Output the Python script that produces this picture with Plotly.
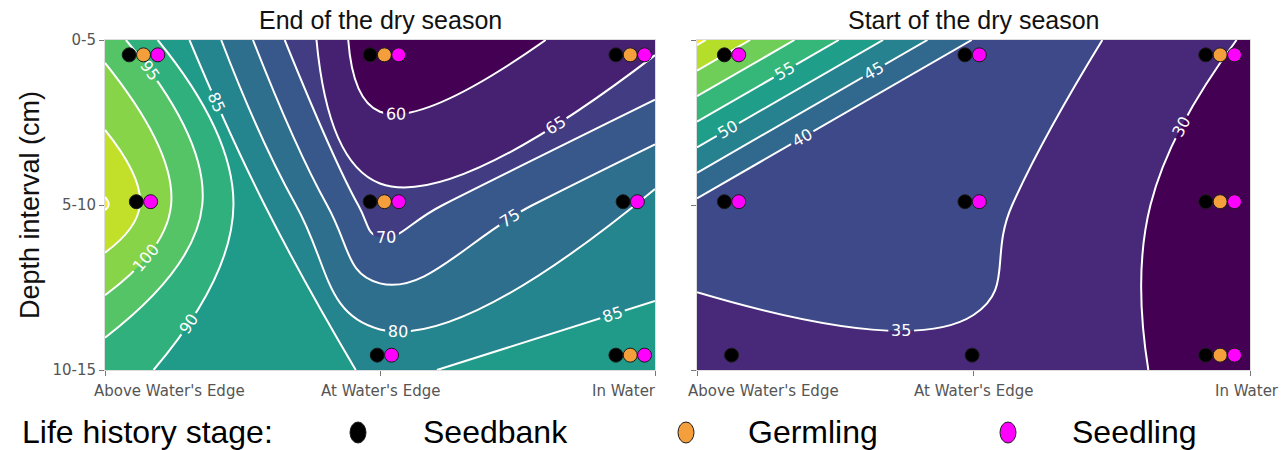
import plotly.graph_objects as go

# Sampling grid: locations along the shore (columns) and depth intervals (rows)
locations = ["Above Water's Edge", "At Water's Edge", "In Water"]
depths = ["0-5", "5-10", "10-15"]
stages = ["Seedbank", "Germling", "Seedling"]
stage_colors = {"Seedbank": "#000000", "Germling": "#F59E3C", "Seedling": "#FF00FF"}

# Surface values, one row per depth interval (0-5, 5-10, 10-15)
end_dry = [
    [98.3, 55.0, 63.3],
    [110.6, 66.5, 81.8],
    [91.2, 84.4, 87.3],
]
start_dry = [
    [71.0, 39.8, 29.5],
    [38.7, 36.4, 26.4],
    [31.7, 34.3, 27.5],
]

# Life history stages recorded at each depth (rows) and location (columns)
end_stages = [
    [["Seedbank", "Germling", "Seedling"], ["Seedbank", "Germling", "Seedling"], ["Seedbank", "Germling", "Seedling"]],
    [["Seedbank", "Seedling"], ["Seedbank", "Germling", "Seedling"], ["Seedbank", "Seedling"]],
    [[], ["Seedbank", "Seedling"], ["Seedbank", "Germling", "Seedling"]],
]
start_stages = [
    [["Seedbank", "Seedling"], ["Seedbank", "Seedling"], ["Seedbank", "Germling", "Seedling"]],
    [["Seedbank", "Seedling"], ["Seedbank", "Seedling"], ["Seedbank", "Germling", "Seedling"]],
    [["Seedbank"], ["Seedbank"], ["Seedbank", "Germling", "Seedling"]],
]

W, H = 1287, 450
grid = [0, 1, 2]

fig = go.Figure()

label_font = dict(color="white", size=16, family="DejaVu Sans")


def add_panel(z, start, end, xa, ya):
    fig.add_trace(go.Contour(
        z=z, x=grid, y=grid, xaxis=xa, yaxis=ya,
        colorscale="Viridis", showscale=False,
        contours=dict(start=start, end=end, size=5, coloring="fill",
                      showlabels=True, labelfont=label_font),
        line=dict(color="white", width=2, smoothing=1.3),
        hoverinfo="skip",
    ))


add_panel(end_dry, 60, 110, "x", "y")
add_panel(start_dry, 30, 70, "x2", "y2")

# marker groups sit slightly inside the frame at each sampling point
group_x = {"x": [0.14, 1.016, 1.91], "x2": [0.125, 0.995, 1.892]}
group_y = [0.09, 0.98, 1.91]
step = 0.052


def add_markers(present, xa, ya):
    for stage in stages:
        xs, ys = [], []
        for r, row in enumerate(present):
            for c, cell in enumerate(row):
                if stage in cell:
                    k = cell.index(stage)
                    n = len(cell)
                    xs.append(group_x[xa][c] + (k - (n - 1) / 2) * step)
                    ys.append(group_y[r])
        fig.add_trace(go.Scatter(
            x=xs, y=ys, xaxis=xa, yaxis=ya, mode="markers", name=stage,
            showlegend=False, hoverinfo="skip",
            marker=dict(size=14, color=stage_colors[stage],
                        line=dict(width=1, color="#1a1a1a")),
        ))


add_markers(end_stages, "x", "y")
add_markers(start_stages, "x2", "y2")

tick_font = dict(family="DejaVu Sans", size=15, color="#555555")
common_x = dict(range=[0, 2], tickvals=grid, showticklabels=False, ticks="outside",
                ticklen=5, tickcolor="#777777", showgrid=False, zeroline=False,
                showline=True, linecolor="#dddddd", mirror=True, automargin=False)
common_y = dict(range=[2, 0], tickvals=grid, ticktext=depths, ticks="outside",
                ticklen=5, tickcolor="#777777", showgrid=False, zeroline=False,
                showline=True, linecolor="#dddddd", mirror=True, tickfont=tick_font,
                automargin=False)

ydom = [1 - 370 / H, 1 - 40 / H]
fig.update_layout(
    width=W, height=H, margin=dict(l=0, r=0, t=0, b=0, pad=0, autoexpand=False),
    paper_bgcolor="white", plot_bgcolor="white",
    xaxis=dict(domain=[105 / W, 655 / W], anchor="y", **common_x),
    yaxis=dict(domain=ydom, anchor="x", **common_y),
    xaxis2=dict(domain=[697 / W, 1250 / W], anchor="y2", **common_x),
    yaxis2=dict(domain=ydom, anchor="x2", **{**common_y, "showticklabels": False}),
)

ann = []
title_font = dict(family="Liberation Sans, Arial", size=25, color="#111111")
for xr, text in (("x", "End of the dry season"), ("x2", "Start of the dry season")):
    ann.append(dict(xref=xr, yref="paper", x=1, y=1 - 20 / H, text=text, showarrow=False,
                    xanchor="center", yanchor="middle", font=title_font))

ann.append(dict(xref="paper", yref="paper", x=30 / W, y=1 - 205 / H, text="Depth interval (cm)",
                textangle=-90, showarrow=False, xanchor="center", yanchor="middle",
                font=dict(family="Liberation Sans, Arial", size=27, color="#111111")))

# location labels below each panel
xlab_place = {
    "x": [("left", -13), ("center", 0), ("right", 3)],
    "x2": [("left", -11), ("center", 0), ("center", -3)],
}
for xr in ("x", "x2"):
    for i, loc in enumerate(locations):
        anchor, shift = xlab_place[xr][i]
        ann.append(dict(xref=xr, yref="paper", x=grid[i], y=ydom[0], yshift=-10, xshift=shift,
                        text=loc, showarrow=False, xanchor=anchor, yanchor="top", font=tick_font))

# stage key along the bottom
key_font = dict(family="Liberation Sans, Arial", size=32, color="#000000")
key_y = 1 - 432 / H
ann.append(dict(xref="paper", yref="paper", x=20 / W, y=key_y, text="Life history stage:",
                showarrow=False, xanchor="left", yanchor="middle", font=key_font))
key_pos = [(358, 421), (686, 746), (1008, 1070)]
shapes = []
for stage, (mx, tx) in zip(stages, key_pos):
    ann.append(dict(xref="paper", yref="paper", x=tx / W, y=key_y, text=stage,
                    showarrow=False, xanchor="left", yanchor="middle", font=key_font))
    shapes.append(dict(type="circle", xref="paper", yref="paper",
                       x0=(mx - 8) / W, x1=(mx + 8) / W,
                       y0=1 - 443 / H, y1=1 - 422 / H,
                       fillcolor=stage_colors[stage], line=dict(color="#1a1a1a", width=1)))

fig.update_layout(annotations=ann, shapes=shapes)

fig.write_html("out.html")
